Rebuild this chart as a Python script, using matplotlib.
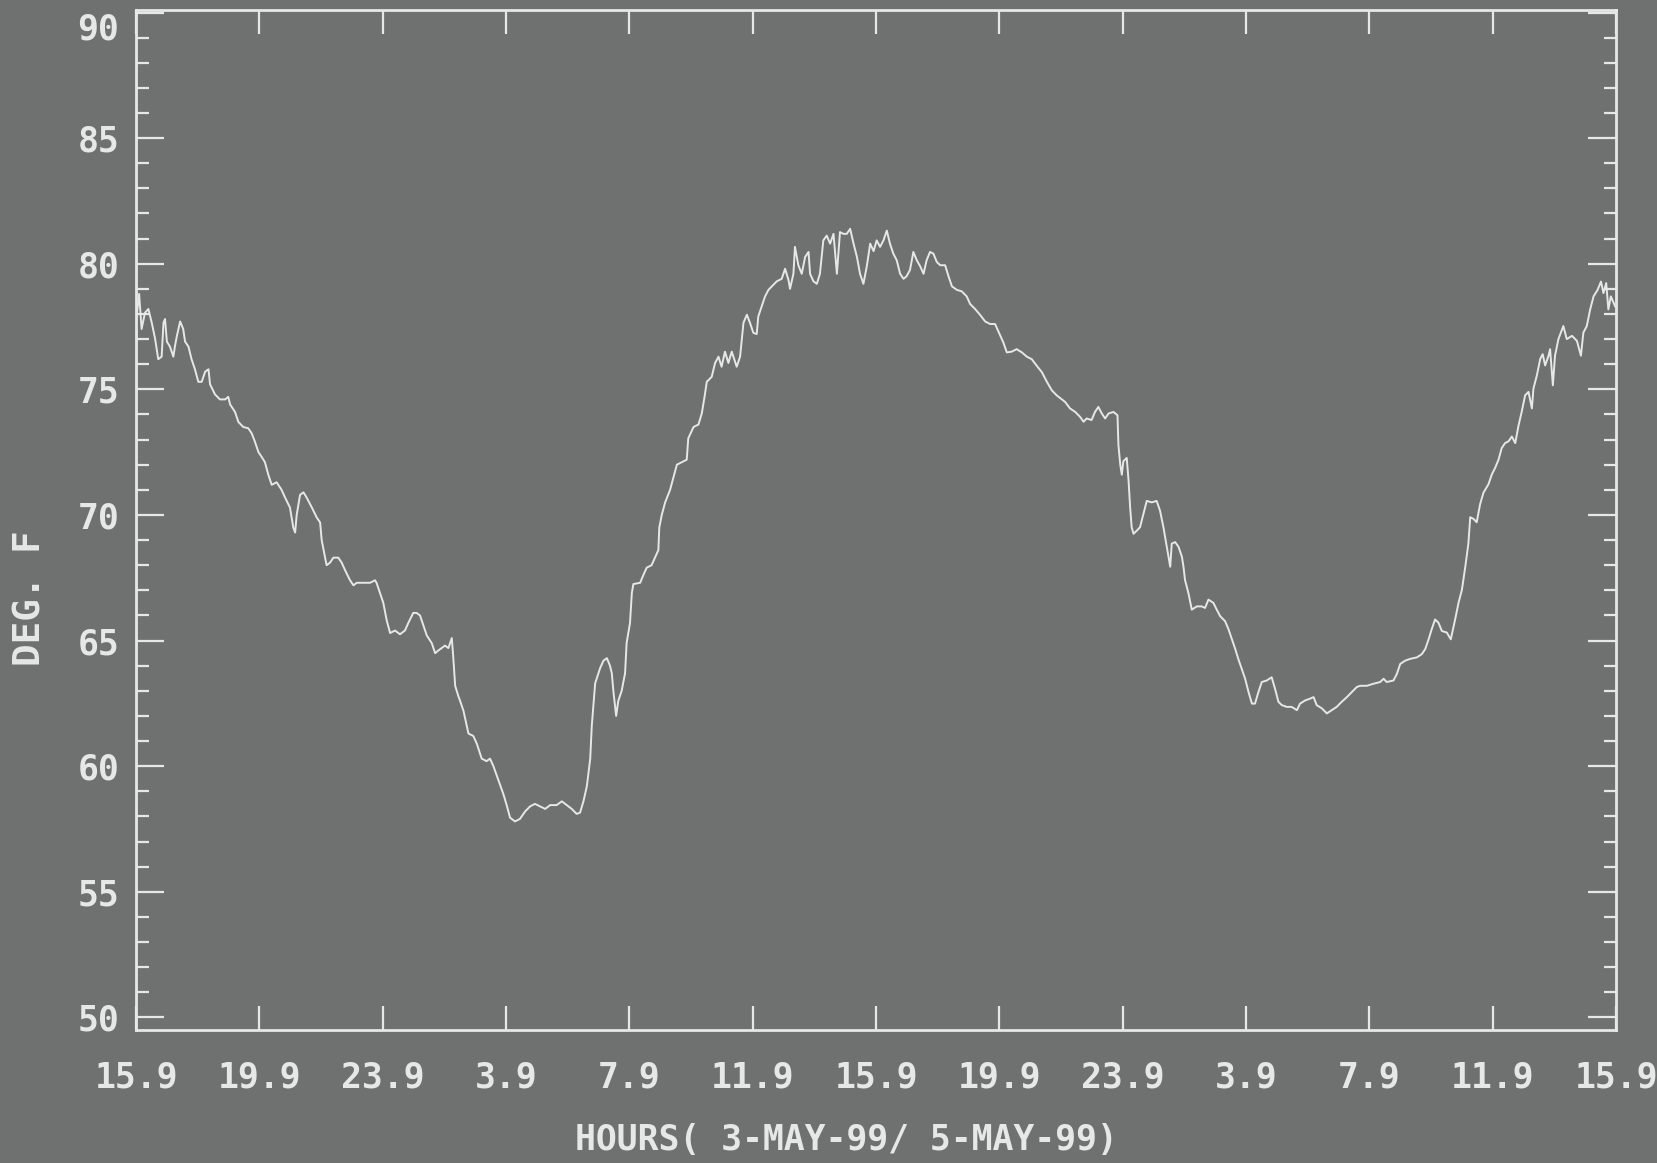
import matplotlib
matplotlib.use("Agg")
import matplotlib.pyplot as plt
from matplotlib.ticker import MultipleLocator

# hours since 15.9 h on 3-May-99, air temperature in deg F
hours = [
    0.00, 0.10, 0.18, 0.29, 0.40, 0.51, 0.62, 0.72, 0.83, 0.89, 0.94, 1.00,
    1.10, 1.21, 1.26, 1.32, 1.43, 1.53, 1.59, 1.70, 1.80, 1.91, 2.02, 2.13,
    2.24, 2.35, 2.40, 2.56, 2.72, 2.89, 2.99, 3.05, 3.21, 3.32, 3.48, 3.64,
    3.75, 3.86, 3.97, 4.08, 4.18, 4.29, 4.40, 4.56, 4.72, 4.83, 4.99, 5.10,
    5.16, 5.21, 5.32, 5.43, 5.53, 5.70, 5.86, 5.97, 6.02, 6.13, 6.18, 6.29,
    6.40, 6.56, 6.67, 6.78, 6.94, 7.05, 7.16, 7.37, 7.59, 7.75, 7.80, 7.91,
    8.02, 8.13, 8.24, 8.40, 8.56, 8.72, 8.83, 8.99, 9.10, 9.21, 9.32, 9.43,
    9.59, 9.70, 9.80, 9.91, 10.02, 10.13, 10.24, 10.29, 10.35, 10.45,
    10.51, 10.62, 10.78, 10.94, 11.05, 11.21, 11.37, 11.48, 11.59, 11.75,
    11.91, 12.02, 12.13, 12.29, 12.45, 12.62, 12.78, 12.94, 13.10, 13.27,
    13.43, 13.64, 13.81, 13.97, 14.13, 14.29, 14.40, 14.51, 14.62, 14.73,
    14.78, 14.89, 15.05, 15.16, 15.27, 15.37, 15.43, 15.48, 15.57, 15.64,
    15.75, 15.86, 15.91, 16.02, 16.08, 16.13, 16.35, 16.45, 16.56, 16.72,
    16.83, 16.94, 16.97, 17.05, 17.16, 17.32, 17.43, 17.54, 17.70, 17.86,
    17.91, 18.08, 18.24, 18.35, 18.45, 18.51, 18.67, 18.78, 18.89, 18.99,
    19.10, 19.21, 19.32, 19.48,
    19.59, 19.70, 19.81, 19.91, 20.02, 20.13, 20.18, 20.29, 20.40, 20.51,
    20.62, 20.78, 20.94, 21.05, 21.16, 21.21, 21.32, 21.37, 21.48, 21.59,
    21.70, 21.81, 21.86, 21.97, 22.08, 22.18, 22.29, 22.40, 22.51, 22.62,
    22.73, 22.83, 22.94, 23.05, 23.16, 23.27, 23.38, 23.48, 23.59, 23.70,
    23.81, 23.92, 24.02, 24.13, 24.24, 24.35, 24.45, 24.56, 24.67, 24.78,
    24.89, 24.99, 25.10, 25.21, 25.32, 25.43, 25.54, 25.64, 25.75, 25.86,
    25.97, 26.08, 26.24, 26.35, 26.46, 26.62, 26.78, 26.94, 27.05, 27.21,
    27.37, 27.54, 27.70, 27.86, 27.97, 28.13, 28.24, 28.40, 28.56, 28.73,
    28.89, 29.05, 29.21, 29.38, 29.54, 29.70, 29.86,
    30.13, 30.29, 30.46, 30.62, 30.73, 30.83, 30.99, 31.10, 31.21, 31.32,
    31.43, 31.54, 31.70, 31.83, 31.86, 31.92, 31.97, 32.02, 32.13, 32.19,
    32.24, 32.29, 32.35, 32.46, 32.56, 32.67, 32.78, 32.94, 33.10, 33.21,
    33.32, 33.43, 33.54, 33.59, 33.70, 33.81, 33.92, 33.97, 34.02, 34.13,
    34.24, 34.40, 34.56, 34.67, 34.78, 34.94, 35.05, 35.16, 35.32, 35.43,
    35.54, 35.65, 35.75, 35.86, 35.97, 36.08, 36.19, 36.29, 36.40, 36.51,
    36.67, 36.83, 36.94, 37.05, 37.16, 37.32, 37.48, 37.65, 37.75, 37.92,
    38.08, 38.19, 38.29, 38.46, 38.62, 38.78, 38.94, 39.10, 39.27, 39.43,
    39.59,
    39.70, 39.92, 40.13, 40.35, 40.46, 40.56, 40.78, 40.89, 41.00, 41.16,
    41.32, 41.54, 41.70, 41.81, 41.92, 42.02, 42.13, 42.24, 42.35, 42.51,
    42.64, 42.78, 42.89, 43.00, 43.11, 43.21, 43.27, 43.38, 43.48, 43.59,
    43.70, 43.86, 43.97, 44.08, 44.19, 44.29, 44.40, 44.51, 44.62, 44.73,
    44.84, 44.94, 45.05, 45.16, 45.27, 45.32, 45.43, 45.54, 45.62, 45.70,
    45.81, 45.86, 45.95, 46.02, 46.13, 46.29, 46.40, 46.57, 46.73, 46.86,
    46.94, 47.05, 47.16, 47.27, 47.40, 47.51, 47.59, 47.68, 47.75, 47.83,
    47.97,
]
temps = [
    77.7, 78.8, 77.4, 78.05, 78.2, 77.65, 77.0, 76.2, 76.3, 77.65, 77.8, 76.9,
    76.7, 76.3, 76.7, 77.1, 77.7, 77.4, 76.9, 76.7, 76.2, 75.8, 75.3, 75.3,
    75.7, 75.8, 75.2, 74.8, 74.6, 74.6, 74.7, 74.4, 74.1, 73.7, 73.5, 73.45,
    73.25, 72.9, 72.5, 72.3, 72.1, 71.6, 71.2, 71.3, 71.0, 70.7, 70.3, 69.5,
    69.3, 70.0, 70.8, 70.9, 70.7, 70.3, 69.9, 69.7, 69.0, 68.3, 68.0, 68.1,
    68.3, 68.3, 68.1, 67.8, 67.4, 67.2, 67.3, 67.3, 67.3, 67.4, 67.3, 66.9,
    66.5, 65.8, 65.3, 65.4, 65.25, 65.4, 65.7, 66.1, 66.1, 66.0, 65.6, 65.2,
    64.9, 64.5, 64.6, 64.7, 64.8, 64.7, 65.1, 64.3, 63.2, 62.8,
    62.6, 62.2, 61.3, 61.2, 60.9, 60.3, 60.2, 60.3, 60.0, 59.45,
    58.9, 58.45, 57.95, 57.8, 57.9, 58.2, 58.4, 58.5, 58.4, 58.3,
    58.45, 58.45, 58.6, 58.45, 58.3, 58.1, 58.15, 58.6, 59.2, 60.3,
    61.6, 63.3, 63.9, 64.2, 64.3, 64.0, 63.7, 63.0, 62.0, 62.6,
    63.0, 63.7, 64.9, 65.7, 66.9, 67.25, 67.3, 67.6, 67.9, 68.0,
    68.3, 68.6, 69.5, 70.0, 70.5, 71.0, 71.5, 72.0, 72.1, 72.2,
    73.05, 73.5, 73.6, 74.05, 74.8, 75.3, 75.5, 76.05, 76.3, 75.9,
    76.5, 76.05, 76.5, 75.9,
    76.3, 77.65, 77.97, 77.65, 77.25, 77.2, 77.9, 78.3, 78.7, 78.96,
    79.1, 79.3, 79.4, 79.8, 79.35, 79.0, 79.6, 80.67, 79.94, 79.6,
    80.27, 80.47, 79.6, 79.3, 79.2, 79.6, 80.93, 81.12, 80.8, 81.19,
    79.6, 81.26, 81.19, 81.19, 81.39, 80.8, 80.27, 79.6, 79.2, 79.9,
    80.8, 80.5, 80.93, 80.67, 80.93, 81.32, 80.8, 80.4, 80.14, 79.6,
    79.4, 79.5, 79.75, 80.47, 80.14, 79.9, 79.6, 80.14, 80.47, 80.4,
    80.07, 79.94, 79.94, 79.5, 79.1, 78.96, 78.9, 78.7, 78.4, 78.2,
    77.97, 77.7, 77.6, 77.6, 77.3, 76.86, 76.47, 76.5, 76.6, 76.47,
    76.3, 76.2, 75.94, 75.68, 75.3, 74.96, 74.76,
    74.5, 74.24, 74.1, 73.9, 73.71, 73.84, 73.78, 74.1, 74.3, 74.04,
    73.84, 74.04, 74.1, 73.97, 72.79, 72.0, 71.6, 72.14, 72.27, 71.35,
    70.3, 69.51, 69.25, 69.38, 69.51, 70.04, 70.56, 70.5, 70.56, 70.17,
    69.51, 68.73, 67.94, 68.86, 68.92, 68.73, 68.33, 67.94, 67.41, 66.89,
    66.23, 66.36, 66.36, 66.3, 66.63, 66.5, 66.23, 65.97, 65.77, 65.45,
    65.05, 64.66, 64.26, 63.87, 63.48, 62.95, 62.49, 62.49, 62.95, 63.35,
    63.41, 63.54, 63.08, 62.56, 62.43, 62.36, 62.36, 62.23, 62.49, 62.62,
    62.69, 62.75, 62.43, 62.3, 62.1, 62.23, 62.36, 62.56, 62.75, 62.95,
    63.15,
    63.2, 63.2, 63.28, 63.35, 63.48, 63.35, 63.41, 63.67, 64.07, 64.2,
    64.27, 64.33, 64.46, 64.66, 65.05, 65.45, 65.84, 65.71, 65.38, 65.32,
    65.05, 65.84, 66.5, 67.02, 67.94, 68.86, 69.91, 69.84, 69.71, 70.43,
    70.89, 71.22, 71.61, 71.88, 72.21, 72.66, 72.86, 72.93, 73.12, 72.86,
    73.58, 74.11, 74.76, 74.9, 74.24, 75.03, 75.55, 76.21, 76.4, 75.95,
    76.34, 76.6, 75.16, 76.34, 77.0, 77.52, 77.0, 77.13, 76.93, 76.34,
    77.26, 77.52, 78.18, 78.7, 78.96, 79.29, 78.83, 79.23, 78.18, 78.7,
    78.3,
]

hour_ticks = [0, 4, 8, 12, 16, 20, 24, 28, 32, 36, 40, 44, 48]
hour_labels = ["15.9", "19.9", "23.9", "3.9", "7.9", "11.9", "15.9",
               "19.9", "23.9", "3.9", "7.9", "11.9", "15.9"]
deg_ticks = [50, 55, 60, 65, 70, 75, 80, 85, 90]

bg = "#6f7171"
fg = "#e6e8e8"

plt.rcParams["font.family"] = "DejaVu Sans Mono"
plt.rcParams["font.weight"] = "bold"

fig = plt.figure(figsize=(16.57, 11.63), dpi=100, facecolor=bg)
ax = fig.add_axes([0.0821, 0.1144, 0.8932, 0.877], facecolor=bg)

ax.plot(hours, temps, color=fg, linewidth=1.4)

ax.set_xlim(0, 48)
ax.set_ylim(49.5, 90.1)

ax.set_xticks(hour_ticks)
ax.set_xticklabels(hour_labels)
ax.set_yticks(deg_ticks)
ax.yaxis.set_minor_locator(MultipleLocator(1))

for s in ax.spines.values():
    s.set_color(fg)
    s.set_linewidth(2)

ax.tick_params(axis="x", which="major", direction="in", length=17, width=1.6,
               colors=fg, labelsize=25, pad=22, top=True)
ax.tick_params(axis="y", which="major", direction="in", length=20, width=1.6,
               colors=fg, labelsize=25, pad=12, right=True)
ax.tick_params(axis="y", which="minor", direction="in", length=9, width=1.6,
               colors=fg, right=True)

# the top label sits below its tick
ax.yaxis.get_major_ticks()[-1].label1.set_verticalalignment("top")

ax.text(-0.0716, 0.4235, "DEG. F", transform=ax.transAxes, rotation=90,
        ha="center", va="center", fontsize=27, color=fg)
ax.text(0.4797, -0.108, "HOURS( 3-MAY-99/ 5-MAY-99)", transform=ax.transAxes,
        ha="center", va="center", fontsize=25, color=fg)

fig.savefig("out.png", dpi=100, facecolor=bg)
